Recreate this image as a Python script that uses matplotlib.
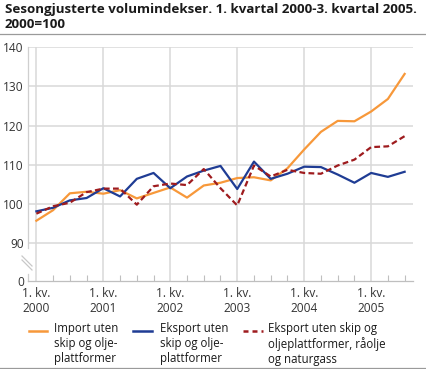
import matplotlib
matplotlib.use("Agg")
import matplotlib.pyplot as plt
from matplotlib.lines import Line2D
from matplotlib.ticker import FixedLocator

plt.rcParams['font.family'] = ['Open Sans', 'DejaVu Sans']

title = "Sesongjusterte volumindekser. 1. kvartal 2000-3. kvartal 2005.\n2000=100"
years = ["2000", "2001", "2002", "2003", "2004", "2005"]
n_quarters = 23

import_vals = [95.7, 98.4, 102.7, 103.1, 102.6, 103.5, 101.4, 102.8, 104.2, 101.6, 104.7, 105.4,
               106.6, 106.8, 106.0, 109.1, 113.9, 118.4, 121.2, 121.1, 123.6, 126.8, 133.2]
eksport_vals = [98.1, 99.0, 100.9, 101.5, 104.0, 101.9, 106.4, 107.9, 104.0, 107.0, 108.5, 109.7,
                103.8, 110.8, 106.4, 107.7, 109.5, 109.4, 107.5, 105.4, 107.9, 106.9, 108.2]
eksport2_vals = [97.5, 99.4, 100.3, 103.0, 103.9, 103.9, 99.8, 104.5, 105.2, 104.8, 108.9, 104.0,
                 99.6, 109.8, 107.0, 108.7, 107.9, 107.7, 109.8, 111.3, 114.5, 114.7, 117.3]

labels = ["Import uten\nskip og olje-\nplattformer",
          "Eksport uten\nskip og olje-\nplattformer",
          "Eksport uten skip og\noljeplattformer, råolje\nog naturgass"]
colors = ["#f7983a", "#1f3c94", "#9e1b1e"]

W, H = 427, 369
fig = plt.figure(figsize=(W / 100, H / 100), dpi=100)
ax = fig.add_axes([28 / W, 1 - 281 / H, (413 - 28) / W, (281 - 47.3) / H])

x = list(range(n_quarters))
ax.plot(x, import_vals, color=colors[0], lw=1.6, zorder=3)
ax.plot(x, eksport_vals, color=colors[1], lw=1.6, zorder=4)
ax.plot(x, eksport2_vals, color=colors[2], lw=1.6, dashes=(2.6, 1.5), zorder=5)

ybot = 80.3
ax.set_xlim(-0.5, 22.5)
ax.set_ylim(ybot, 140)

grid_c = "#d9d9d9"
for v in [90, 100, 110, 120, 130, 140]:
    ax.axhline(v, color=grid_c, lw=1.1, zorder=1)
for i in range(0, n_quarters, 4):
    ax.axvline(i, color=grid_c, lw=1.1, zorder=1)

ax.set_yticks([ybot, 90, 100, 110, 120, 130, 140])
ax.set_yticklabels(["0", "90", "100", "110", "120", "130", "140"])
ax.set_xticks(list(range(0, n_quarters, 4)))
ax.set_xticklabels(["1. kv.\n" + y for y in years])
ax.xaxis.set_minor_locator(FixedLocator(x))
ax.tick_params(axis='y', length=0, pad=3, labelsize=8.6, labelcolor="#333333")
ax.tick_params(axis='x', which='major', length=0, pad=4, labelsize=8.6, labelcolor="#333333")
ax.tick_params(axis='x', which='minor', direction='in', length=4, width=0.8, color="#bfbfbf")

for s in ['top', 'right']:
    ax.spines[s].set_visible(False)
ax.spines['bottom'].set_color("#bfbfbf")
ax.spines['bottom'].set_linewidth(0.9)
ax.spines['left'].set_color("#cfcfcf")
ax.spines['left'].set_linewidth(0.9)
ax.spines['left'].set_bounds(88.8, 140)
frac = (82.1 - ybot) / (140 - ybot)
ax.axvline(-0.5, ymin=0, ymax=frac, color="#cfcfcf", lw=0.9, clip_on=False)

def px(xp, yp):
    return xp / W, 1 - yp / H

# axis break marks
for dy in (0, 4):
    (x0, y0), (x1, y1) = px(22, 256 + dy), px(32, 266 + dy)
    fig.add_artist(Line2D([x0, x1], [y0, y1], color="#c8c8c8", lw=0.9))

# title and rules
fig.text(5 / W, 1 - 3 / H, title, ha='left', va='top', fontsize=9.6, fontweight='bold',
         color="#1a1a1a", linespacing=1.25)
fig.add_artist(Line2D([0, 1], [1 - 33.5 / H, 1 - 33.5 / H], color="#9a9a9a", lw=0.9))
fig.add_artist(Line2D([0, 1], [1 - 367.5 / H, 1 - 367.5 / H], color="#9a9a9a", lw=0.9))

# legend
handle_x = [(29, 47), (133, 152), (243, 263)]
text_x = [54, 160, 268]
for (hx0, hx1), tx, lab, c, k in zip(handle_x, text_x, labels, colors, range(3)):
    (a0, b0), (a1, b1) = px(hx0, 331), px(hx1, 331)
    kw = dict(dashes=(2.0, 1.6)) if k == 2 else {}
    fig.add_artist(Line2D([a0, a1], [b0, b1], color=c, lw=1.8, **kw))
    tx_, ty_ = px(tx, 322)
    fig.text(tx_, ty_, lab, ha='left', va='top', fontsize=8.3, color="#1a1a1a", linespacing=1.2)

fig.savefig("out.png", dpi=100)
